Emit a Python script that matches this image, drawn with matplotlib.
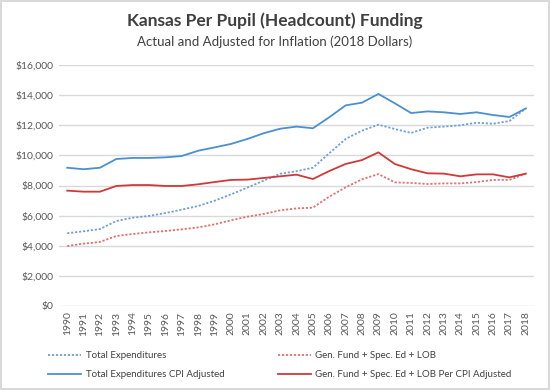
import matplotlib.pyplot as plt
from matplotlib.ticker import FuncFormatter

plt.rcParams['font.family'] = ['Lato', 'DejaVu Sans']

# data
years = list(range(1990, 2019))
total_exp = [4830, 4960, 5110, 5640, 5860, 5980, 6170, 6400, 6640, 6990, 7410, 7860,
             8320, 8780, 8950, 9180, 10140, 11090, 11640, 12040, 11750, 11490, 11840,
             11910, 12000, 12170, 12100, 12280, 13120]
total_exp_cpi = [9180, 9080, 9180, 9760, 9830, 9830, 9870, 9960, 10310, 10530, 10760,
                 11090, 11470, 11770, 11910, 11800, 12530, 13320, 13500, 14080, 13460,
                 12810, 12920, 12860, 12750, 12860, 12680, 12550, 13120]
gen_fund = [3980, 4140, 4250, 4650, 4780, 4890, 4980, 5090, 5220, 5420, 5690, 5930,
            6110, 6350, 6480, 6530, 7260, 7880, 8410, 8760, 8210, 8170, 8100, 8140,
            8140, 8230, 8370, 8370, 8790]
gen_fund_cpi = [7660, 7590, 7590, 7970, 8030, 8030, 7970, 7970, 8080, 8230, 8370, 8390,
                8500, 8610, 8720, 8430, 8960, 9430, 9690, 10200, 9430, 9080, 8810, 8790,
                8610, 8740, 8740, 8540, 8790]

blue = '#4a90d0'
red = '#d0393a'

fig = plt.figure(figsize=(5.5, 3.9), dpi=100)
fig.patch.set_edgecolor('#d9d9d9')
fig.patch.set_linewidth(1.5)
ax = fig.add_axes([0.1073, 0.2154, 0.8636, 0.6179])

x = range(len(years))
l1, = ax.plot(x, total_exp, color='#6d9fdc', lw=1.3, ls=(0, (1.2, 1.0)))
l2, = ax.plot(x, total_exp_cpi, color=blue, lw=1.3)
l3, = ax.plot(x, gen_fund, color='#e07272', lw=1.3, ls=(0, (1.2, 1.0)))
l4, = ax.plot(x, gen_fund_cpi, color=red, lw=1.3)

ax.set_xlim(-0.5, len(years) - 0.5)
ax.set_ylim(0, 16000)
ax.set_yticks(range(0, 16001, 2000))
ax.yaxis.set_major_formatter(FuncFormatter(lambda v, p: f'${v:,.0f}'))
ax.set_xticks(list(x))
ax.set_xticklabels([str(y) for y in years], rotation=90)
ax.tick_params(axis='both', length=0, labelsize=7.5, colors='#595959', pad=4)
ax.grid(axis='y', color='#d9d9d9', lw=1)
ax.set_axisbelow(True)
for s in ax.spines.values():
    s.set_visible(False)

fig.text(0.5, 0.948, 'Kansas Per Pupil (Headcount) Funding', ha='center', va='center',
         fontsize=12.5, fontweight='bold', color='#404040')
fig.text(0.5, 0.893, 'Actual and Adjusted for Inflation (2018 Dollars)', ha='center',
         va='center', fontsize=9.5, color='#404040')

leg = fig.legend([l1, l2, l3, l4],
                 ['Total Expenditures', 'Total Expenditures CPI Adjusted',
                  'Gen. Fund + Spec. Ed + LOB', 'Gen. Fund + Spec. Ed + LOB Per CPI Adjusted'],
                 ncol=2, loc='lower left', bbox_to_anchor=(0.072, 0.005), frameon=False,
                 fontsize=7, handlelength=3.4, handletextpad=0.5, columnspacing=5.4,
                 labelspacing=1.05)
for t in leg.get_texts():
    t.set_color('#404040')

fig.savefig('out.png', dpi=100)
